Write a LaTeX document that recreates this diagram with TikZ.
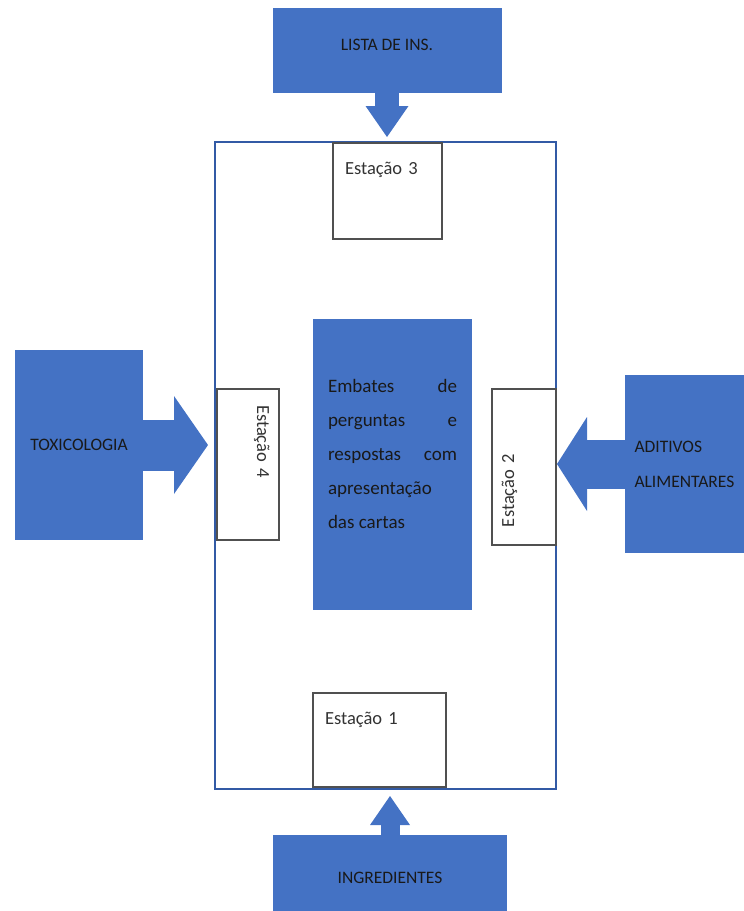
\documentclass[tikz,border=0pt]{standalone}
\usepackage{fontspec}
\setmainfont{Carlito}
\usetikzlibrary{arrows.meta}
\definecolor{caixaazul}{RGB}{68,114,196}
\definecolor{moldura}{RGB}{50,90,165}
\definecolor{contorno}{RGB}{80,80,80}

\begin{document}
\begin{tikzpicture}[x=1pt, y=-1pt,
    bloco/.style={fill=caixaazul, inner sep=0pt, text=black!90, font=\fontsize{17.5}{35}\selectfont},
    estacao/.style={draw=contorno, line width=1.1pt, fill=white, inner ysep=0pt, align=left, text=black!80, font=\fontsize{18.5}{22}\selectfont},
    seta/.style={draw=caixaazul}]
    \useasboundingbox (0,0) rectangle (744,911);

    \node[draw=moldura, line width=2pt, minimum width=341pt, minimum height=647pt] (M) at (385.5,465.5) {};

    \node[bloco, minimum width=229pt, minimum height=85pt, text height=42.6pt, text depth=42.4pt] (L) at (387,50.5) {LISTA DE INS.};
    \node[bloco, minimum width=128pt, minimum height=190pt] (T) at (79,445) {TOXICOLOGIA};
    \node[bloco, minimum width=119pt, minimum height=178pt, text width=100pt, align=left] (A) at (684.5,464) {ADITIVOS\\ALIMENTARES};
    \node[bloco, minimum width=234pt, minimum height=76pt, text height=48.6pt, text depth=27.4pt] (I) at (390,873) {INGREDIENTES};

    \draw[seta, line width=24pt, shorten >=4pt, -{Triangle[width=43pt, length=31pt, line width=0pt]}] (L.south) -- (L.south |- M.north);
    \draw[seta, line width=51pt, shorten >=6pt, -{Triangle[width=98pt, length=34pt, line width=0pt]}] (T.east) -- (T.east -| M.west);
    \draw[seta, line width=49pt, -{Triangle[width=94pt, length=30pt, line width=0pt]}] (A.west) -- (A.west -| M.east);
    \draw[seta, line width=19pt, shorten >=6pt, -{Triangle[width=40pt, length=29pt, line width=0pt]}] (I.north) -- (I.north |- M.south);

    \node[estacao, minimum width=109pt, minimum height=96pt, inner xsep=12pt, text width=85pt, text height=31pt, text depth=65pt] (E3) at (387.5,191) {Estação 3};
    \node[estacao, minimum width=133pt, minimum height=94pt, inner xsep=12pt, text width=109pt, text height=31pt, text depth=63pt] (E1) at (379.5,740) {Estação 1};
    \node[estacao, rotate=-90, minimum width=151pt, minimum height=62pt, inner xsep=16pt, text width=119pt, text height=22pt, text depth=40pt] (E4) at (248,464.5) {Estação 4};
    \node[estacao, rotate=90, minimum width=156pt, minimum height=64pt, inner xsep=18pt, text width=120pt, text height=22pt, text depth=42pt] (E2) at (524,467) {Estação 2};

    \node[fill=caixaazul, minimum width=159pt, minimum height=291pt, inner xsep=15pt, inner ysep=0pt, text width=129pt, text height=73pt, text depth=218pt, align=justify, text=black!90, font=\fontsize{19}{34}\selectfont] (C) at (392.5,464.5) {Embates de\linebreak perguntas e\linebreak respostas com\linebreak apresentação\\ das cartas};
\end{tikzpicture}
\end{document}
